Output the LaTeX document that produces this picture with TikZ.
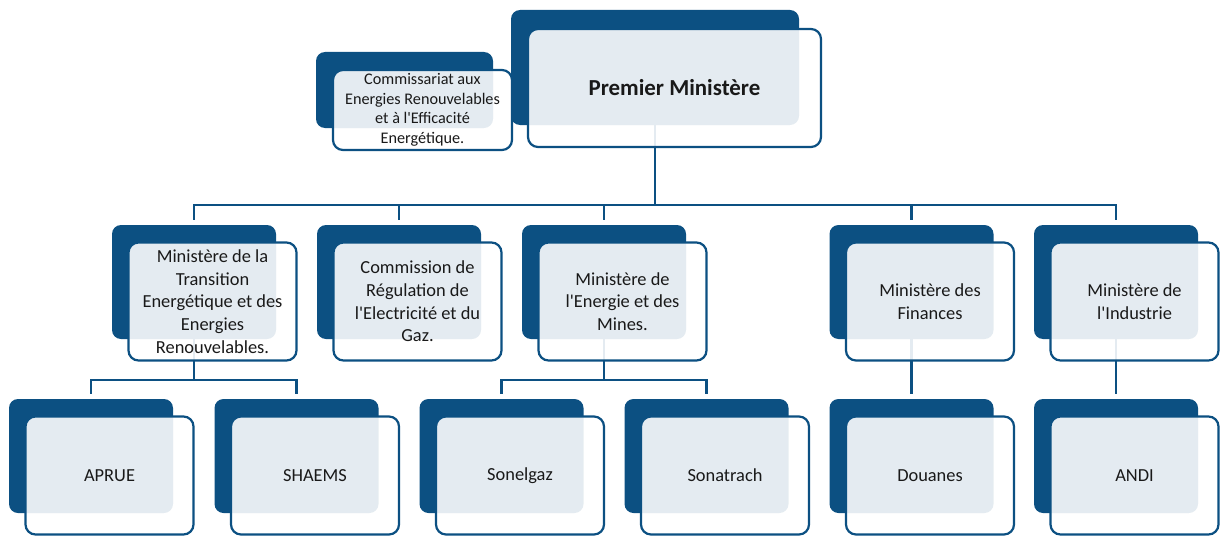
\documentclass[tikz,border=0pt]{standalone}
\usepackage{fontspec}
\newfontfamily\calib{Carlito}
\usetikzlibrary{backgrounds}
\definecolor{dblue}{RGB}{12,80,130}
\definecolor{txt}{RGB}{25,25,25}
\newcommand\pairbox[4]{%
  \node[backbox, minimum width=164pt, minimum height=114pt] (#1B) at (#2,#3) {};
  \node[frontbox, minimum width=168pt, minimum height=118pt, xshift=18.5pt, yshift=-19.5pt] (#1) at (#2,#3) {#4};
}
\begin{document}
\begin{tikzpicture}[x=1pt,y=-1pt,
  backbox/.style={draw=none, fill=dblue, rounded corners=9pt, inner sep=0pt, outer sep=0pt},
  frontbox/.style={draw=dblue, line width=2.2pt, fill=white, fill opacity=0.89, text opacity=1,
    rounded corners=10pt, inner sep=0pt, outer sep=0pt, align=center, text=txt,
    font=\calib\fontsize{18.4}{22.7}\selectfont},
  conn/.style={draw=dblue, line width=2.5pt, shorten >=5pt}]
\useasboundingbox (0,0) rectangle (1222,535);

% top
\node[backbox, minimum width=288pt, minimum height=115pt] (pmB) at (655,67.5) {};
\node[frontbox, minimum width=293pt, minimum height=118pt,
  font=\calib\bfseries\fontsize{22.9}{27}\selectfont] (pm) at (674.5,88) {Premier Ministère};
\node[backbox, minimum width=177pt, minimum height=76pt] (cerB) at (404.5,90) {};
\node[frontbox, minimum width=179pt, minimum height=80pt,
  font=\calib\fontsize{16.2}{19.5}\selectfont] (cer) at (422.5,110)
  {Commissariat aux\\Energies Renouvelables\\et à l'Efficacité\\Energétique.};

% level 2
\pairbox{mte}{194}{282}{Ministère de la\\Transition\\Energétique et des\\Energies\\Renouvelables.}
\pairbox{creg}{399}{282}{Commission de\\Régulation de\\l'Electricité et du\\Gaz.}
\pairbox{mem}{604}{282}{Ministère de\\l'Energie et des\\Mines.}
\pairbox{mf}{911.5}{282}{Ministère des\\Finances}
\pairbox{mi}{1116}{282}{Ministère de\\l'Industrie}

% level 3
\pairbox{apr}{91}{456}{APRUE}
\pairbox{sha}{296.5}{456}{SHAEMS}
\pairbox{son}{501.5}{456}{Sonelgaz}
\pairbox{sot}{706.5}{456}{Sonatrach}
\pairbox{dou}{911.5}{456}{Douanes}
\pairbox{and}{1116}{456}{ANDI}

\begin{pgfonlayer}{background}
\coordinate (bus) at (0,205);
\coordinate (subbus) at (0,380);
\foreach \c in {mte,creg,mem,mf,mi}
  \draw[conn] (pmB.south) -- (pmB.south |- bus) -| (\c B.north);
\foreach \c in {apr,sha}
  \draw[conn] (mteB.south) -- (mteB.south |- subbus) -| (\c B.north);
\foreach \c in {son,sot}
  \draw[conn] (memB.south) -- (memB.south |- subbus) -| (\c B.north);
\draw[conn] (mfB.south) -- (douB.north);
\draw[conn] (miB.south) -- (andB.north);
\end{pgfonlayer}
\end{tikzpicture}
\end{document}
